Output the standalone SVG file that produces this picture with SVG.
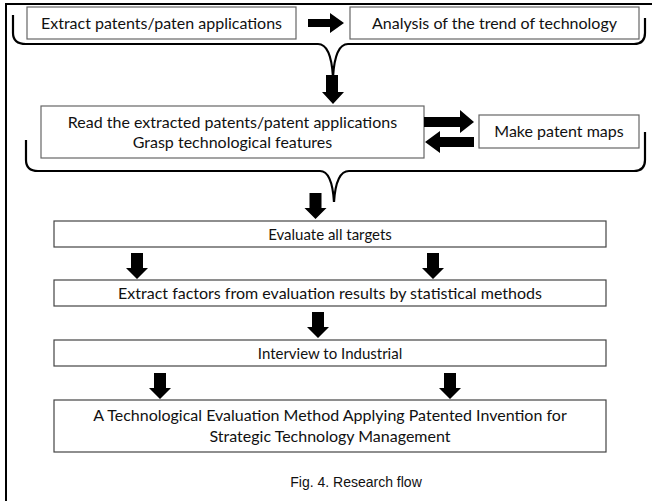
<svg xmlns="http://www.w3.org/2000/svg" xmlns:xlink="http://www.w3.org/1999/xlink" width="652" height="501" viewBox="0 0 652 501">
<style>
.bg{fill:#fff}
.box{fill:#fff;stroke:#666;stroke-width:1.2}
.box2{fill:#fff;stroke:#444;stroke-width:1.2}
.t{font-family:Lato,"Open Sans","Liberation Sans",sans-serif;font-size:16px;fill:#111;text-anchor:middle}
.s{font-size:15px}
.cap{font-family:"Liberation Sans",Arial,sans-serif;font-size:14px;fill:#111;text-anchor:middle}
.brace{fill:none;stroke:#000;stroke-width:2.2}
.arr{fill:#000}
.frame{fill:none;stroke:#000;stroke-width:2}
</style>
<defs>
<path id="dArrow" d="M-6,0 H6 V15 H11 L0,26 L-11,15 H-6 Z"/>
</defs>
<rect class="bg" x="0" y="0" width="652" height="501"/>
<path class="frame" d="M6,501 V4 H652"/>

<g id="n1"><rect class="box" x="27" y="7" width="269" height="32"/><text class="t" x="161.5" y="28.5">Extract patents/paten applications</text></g>
<g id="n2"><rect class="box" x="350" y="7" width="289" height="32"/><text class="t" x="494.5" y="28.5">Analysis of the trend of technology</text></g>
<g id="n3"><rect class="box" x="41" y="106" width="383" height="52"/><text class="t" x="232.5" y="128">Read the extracted patents/patent applications</text><text class="t" x="232.5" y="148">Grasp technological features</text></g>
<g id="n4"><rect class="box" x="479" y="115" width="160" height="33"/><text class="t" x="559" y="137">Make patent maps</text></g>
<g id="n5"><rect class="box2" x="54" y="221" width="552" height="26"/><text class="t s" x="330" y="239.5">Evaluate all targets</text></g>
<g id="n6"><rect class="box2" x="54" y="280" width="552" height="26"/><text class="t" x="330" y="298.5">Extract factors from evaluation results by statistical  methods</text></g>
<g id="n7"><rect class="box2" x="54" y="340" width="552" height="26"/><text class="t s" x="330" y="358.5">Interview to Industrial</text></g>
<g id="n8"><rect class="box2" x="54" y="400" width="552" height="52"/><text class="t" x="330" y="421">A Technological Evaluation Method Applying Patented Invention for</text><text class="t" x="330" y="442">Strategic Technology Management</text></g>
<text class="cap" x="356" y="487">Fig. 4. Research flow</text>

<g id="connectors">
<path class="brace" d="M13,15 V33 Q13,44 26,44 H318 Q331,44 333,77 Q335,44 348,44 H634 Q645,44 645,33 V18"/>
<path class="brace" d="M26,140 V160 Q26,171 38,171 H320 Q332,171 334,202 Q336,171 349,171 H634 Q645,171 645,160 V132"/>
<path class="arr" d="M308,19 H330 V13 L344,23 L330,33 V27 H308 Z"/>
<path class="arr" d="M424,117 H460 V110 L474,122 L460,133 V127 H424 Z"/>
<path class="arr" d="M474,137 H440 V131 L425,142 L440,153 V147 H474 Z"/>
<path class="arr" d="M326,75 H338 V92 H344 L333,104 L322,92 H326 Z"/>
<use class="arr" xlink:href="#dArrow" transform="translate(315.5,193)"/>
<use class="arr" xlink:href="#dArrow" transform="translate(137,253)"/>
<use class="arr" xlink:href="#dArrow" transform="translate(433,253)"/>
<use class="arr" xlink:href="#dArrow" transform="translate(318,312)"/>
<use class="arr" xlink:href="#dArrow" transform="translate(160,373)"/>
<use class="arr" xlink:href="#dArrow" transform="translate(450,373)"/>
</g>
</svg>
